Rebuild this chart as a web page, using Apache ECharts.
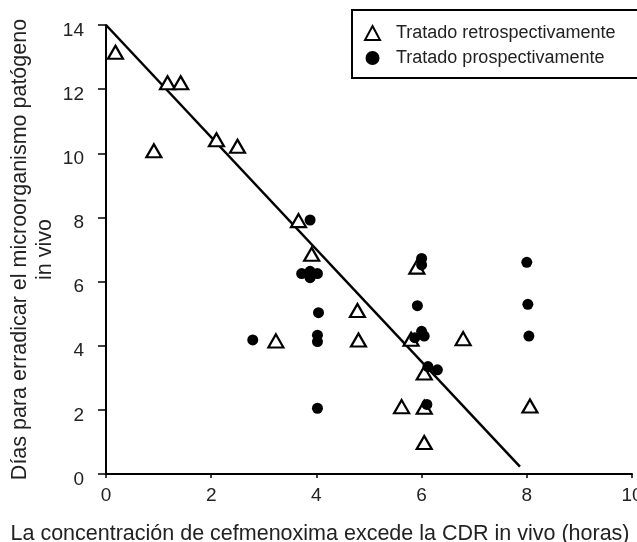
<!DOCTYPE html>
<html>
<head>
<meta charset="utf-8">
<script src="https://cdn.jsdelivr.net/npm/echarts@6/dist/echarts.min.js"></script>
<style>html,body{margin:0;padding:0;background:#fff;}#chart{width:637px;height:542px;}</style>
</head>
<body>
<div id="chart"></div>
<script>
var xTicks = [0, 2, 4, 6, 8, 10];
var yTicks = [0, 2, 4, 6, 8, 10, 12, 14];
var retroName = 'Tratado retrospectivamente';
var prosName = 'Tratado prospectivamente';
var retroX = [0.18, 1.17, 1.42, 0.91, 2.10, 2.50, 3.66, 3.91, 3.23, 4.78, 4.80, 5.80, 5.91, 6.79, 6.05, 5.62, 6.05, 8.06, 6.05];
var retroY = [13.15, 12.2, 12.2, 10.08, 10.42, 10.22, 7.9, 6.85, 4.15, 5.1, 4.18, 4.2, 6.45, 4.22, 3.15, 2.1, 2.08, 2.12, 0.98];
var prosX = [3.88, 3.72, 4.02, 3.88, 3.88, 4.04, 4.02, 4.02, 2.79, 4.02, 6.0, 6.0, 8.0, 8.02, 8.04, 5.92, 5.87, 6.0, 6.05, 6.12, 6.3, 6.10];
var prosY = [7.92, 6.25, 6.25, 6.32, 6.12, 5.03, 4.33, 4.13, 4.18, 2.05, 6.72, 6.52, 6.6, 5.29, 4.3, 5.25, 4.25, 4.45, 4.3, 3.35, 3.25, 2.17];
var regX = [0, 7.87];
var regY = [14, 0.23];
var xTitle = 'La concentración de cefmenoxima excede la CDR in vivo (horas)';
var yTitle = 'Días para erradicar el microorganismo patógeno\nin vivo';

function zip(a, b) { return a.map(function (v, i) { return [v, b[i]]; }); }

var FONT = 'Liberation Sans, Arial, sans-serif';
var chart = echarts.init(document.getElementById('chart'), null, {renderer: 'canvas'});
chart.setOption({
  animation: false,
  backgroundColor: '#ffffff',
  grid: {left: 106, right: 5, top: 25, bottom: 68, containLabel: false, outerBoundsMode: 'none'},
  xAxis: {
    type: 'value', min: xTicks[0], max: xTicks[xTicks.length - 1], interval: 2,
    splitLine: {show: false},
    axisLine: {onZero: false, lineStyle: {color: '#000', width: 2}},
    axisTick: {show: true, length: 4, lineStyle: {color: '#000', width: 1.5}},
    axisLabel: {color: '#222', fontFamily: FONT, fontSize: 19, margin: 12},
    name: xTitle, nameLocation: 'middle', nameGap: 49, nameMoveOverlap: false,
    nameTextStyle: {color: '#222', fontFamily: FONT, fontSize: 21.5, padding: [0, 98, 0, 0]}
  },
  yAxis: {
    type: 'value', min: yTicks[0], max: yTicks[yTicks.length - 1], interval: 2,
    splitLine: {show: false},
    axisLine: {onZero: false, lineStyle: {color: '#000', width: 2}},
    axisTick: {show: true, length: 8, lineStyle: {color: '#000', width: 1.5}},
    axisLabel: {
      color: '#222', fontFamily: FONT, fontSize: 19, margin: 22,
      formatter: '{a|{value}}',
      rich: {a: {color: '#222', fontFamily: FONT, fontSize: 19, padding: [11, 0, 0, 0]}}
    },
    name: yTitle, nameLocation: 'middle', nameGap: 48, nameRotate: 90, nameMoveOverlap: false,
    nameTextStyle: {color: '#222', fontFamily: FONT, fontSize: 21.5, lineHeight: 25, align: 'center'}
  },
  legend: {
    left: 352, top: 10, orient: 'vertical',
    padding: [14, 80, 11, 12], itemGap: 7,
    itemWidth: 15, itemHeight: 14,
    borderColor: '#000', borderWidth: 2, backgroundColor: '#fff',
    textStyle: {color: '#222', fontFamily: FONT, fontSize: 18, padding: [0, 0, 0, 11]},
    data: [retroName, prosName]
  },
  series: [
    {
      type: 'line', data: zip(regX, regY), symbol: 'none', silent: true,
      lineStyle: {color: '#000', width: 2.5}, z: 1
    },
    {
      name: retroName, type: 'scatter', data: zip(retroX, retroY),
      symbol: 'triangle', symbolSize: [15, 13],
      itemStyle: {color: '#fff', borderColor: '#000', borderWidth: 2.2, opacity: 1}, z: 3
    },
    {
      name: prosName, type: 'scatter', data: zip(prosX, prosY),
      symbol: 'circle', symbolSize: 11,
      itemStyle: {color: '#000', opacity: 1}, z: 4
    }
  ]
});
</script>
</body>
</html>
